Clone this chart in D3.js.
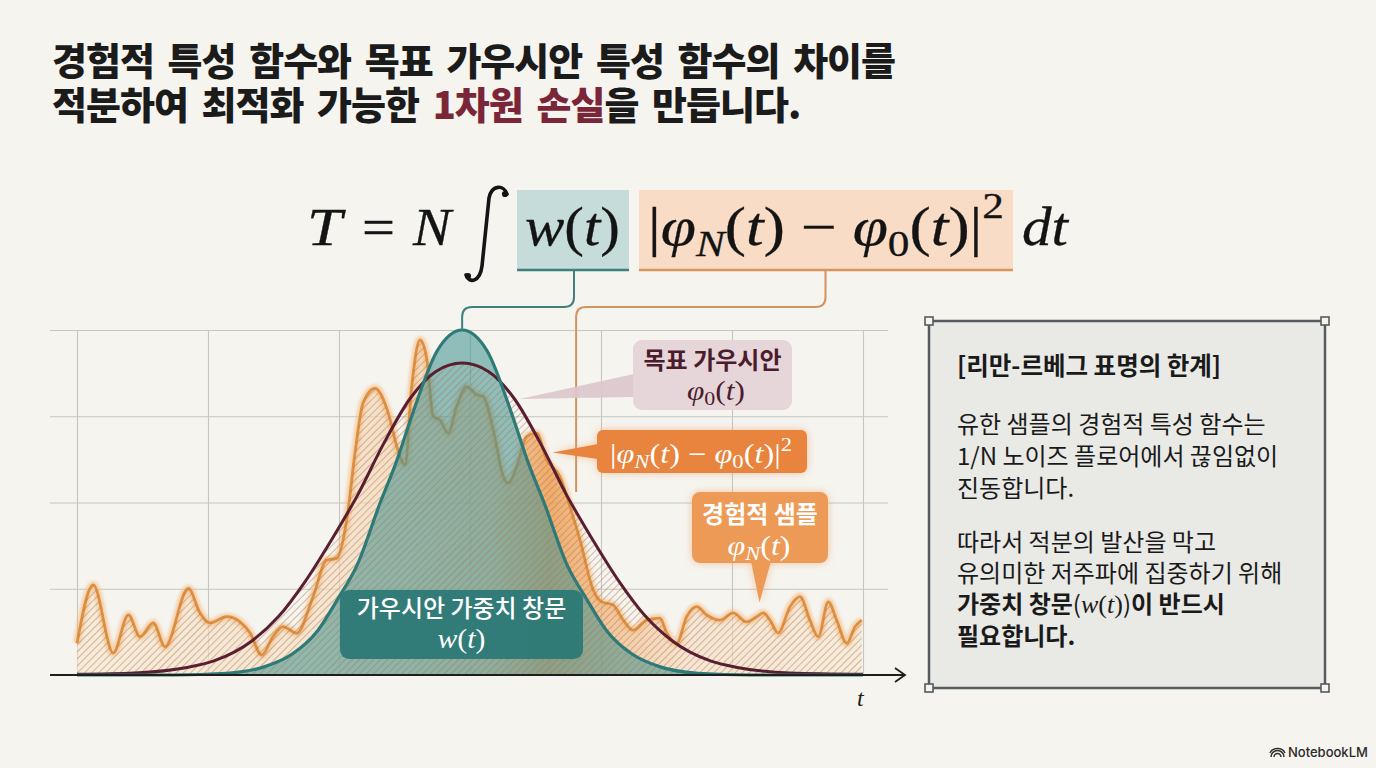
<!DOCTYPE html>
<html>
<head>
<meta charset="utf-8">
<script src="https://cdn.jsdelivr.net/npm/d3@7"></script>
<style>
  html, body { margin: 0; padding: 0; background: #f5f4ef; }
  svg { display: block; }
</style>
</head>
<body>
<div id="chart"></div>
<script>
// ---- data (t in grid cells 0..6, value 0..1) ----
var gridT = [0, 1, 2, 3, 4, 5, 6];
var gridV = [0.25, 0.5, 0.75, 1];

// gaussian weight window w(t)
var wT = [0, 0.74, 1.14, 1.44, 1.64, 1.84, 1.99, 2.14, 2.315, 2.44, 2.555, 2.75, 2.94,
          3.13, 3.325, 3.44, 3.565, 3.74, 3.89, 4.04, 4.24, 4.44, 4.74, 5.14, 6];
var wV = [0, 0, 0.005, 0.025, 0.06, 0.13, 0.22, 0.32, 0.5, 0.62, 0.75, 0.94, 1.0,
          0.94, 0.75, 0.62, 0.5, 0.32, 0.22, 0.13, 0.06, 0.025, 0.005, 0, 0];

// target gaussian phi0(t)
var p0T = [0, 0.44, 0.84, 1.04, 1.34, 1.54, 1.74, 1.94, 2.14, 2.34, 2.54, 2.74, 2.94,
           3.14, 3.34, 3.54, 3.74, 3.94, 4.14, 4.34, 4.54, 4.84, 5.04, 5.44, 6];
var p0V = [0.002, 0.006, 0.022, 0.04, 0.1, 0.17, 0.27, 0.39, 0.52, 0.67, 0.8, 0.88, 0.904,
           0.88, 0.8, 0.67, 0.52, 0.39, 0.27, 0.17, 0.1, 0.04, 0.022, 0.006, 0.002];

// empirical sample phiN(t)
var pNT = [0, 0.124, 0.277, 0.392, 0.481, 0.582, 0.672, 0.85, 0.939, 1.015, 1.143, 1.244, 1.321,
           1.41, 1.496, 1.573, 1.677, 1.802, 1.906, 1.982, 2.059, 2.122, 2.183, 2.275, 2.374, 2.45,
           2.504, 2.555, 2.618, 2.669, 2.72, 2.771, 2.834, 2.898, 2.975, 3.051, 3.102, 3.178, 3.254,
           3.292, 3.356, 3.433, 3.509, 3.585, 3.687, 3.763, 3.84, 3.941, 4.005, 4.092, 4.17, 4.244,
           4.349, 4.45, 4.502, 4.578, 4.654, 4.731, 4.807, 4.908, 5.008, 5.112, 5.189, 5.239, 5.29,
           5.353, 5.443, 5.519, 5.595, 5.659, 5.735, 5.799, 5.876, 5.939, 5.99];
var pNV = [0.092, 0.261, 0.064, 0.174, 0.111, 0.151, 0.082, 0.251, 0.18, 0.151, 0.169, 0.154, 0.122,
           0.058, 0.111, 0.14, 0.121, 0.227, 0.333, 0.338, 0.449, 0.643, 0.788, 0.831, 0.762, 0.652,
           0.609, 0.836, 0.971, 0.919, 0.749, 0.739, 0.701, 0.778, 0.836, 0.812, 0.807, 0.71, 0.575,
           0.556, 0.604, 0.691, 0.701, 0.623, 0.575, 0.488, 0.391, 0.246, 0.212, 0.203, 0.159, 0.13,
           0.159, 0.165, 0.122, 0.092, 0.169, 0.198, 0.174, 0.159, 0.18, 0.154, 0.169, 0.18, 0.159,
           0.122, 0.198, 0.227, 0.159, 0.111, 0.212, 0.159, 0.092, 0.14, 0.159];

// texts
var titleLine1 = "경험적 특성 함수와 목표 가우시안 특성 함수의 차이를";
var titleLine2 = ["적분하여 최적화 가능한 ", "1차원 손실", "을 만듭니다."];
var targetLabel = "목표 가우시안";
var sampleLabel = "경험적 샘플";
var windowLabel = "가우시안 가중치 창문";
var panelTitle = "[리만-르베그 표명의 한계]";
var panelPara1 = ["유한 샘플의 경험적 특성 함수는", "1/N 노이즈 플로어에서 끊임없이", "진동합니다."];
var panelPara2 = ["따라서 적분의 발산을 막고", "유의미한 저주파에 집중하기 위해"];

var KR = "'Noto Sans CJK KR', 'Noto Sans', sans-serif";
var MATH = "'Liberation Serif', 'DejaVu Serif', serif";

var svgWidth = 1376, svgHeight = 768;

var svg = d3.select("#chart")
  .append("svg")
  .attr("width", svgWidth)
  .attr("height", svgHeight);

svg.append("rect").attr("width", svgWidth).attr("height", svgHeight).attr("fill", "#f5f4ef");

// ---- defs ----
var defs = svg.append("defs");

var hatch = defs.append("pattern")
  .attr("id", "hatch")
  .attr("patternUnits", "userSpaceOnUse")
  .attr("width", 5).attr("height", 5)
  .attr("patternTransform", "rotate(45)");
hatch.append("line")
  .attr("x1", 0).attr("y1", 0).attr("x2", 0).attr("y2", 5)
  .attr("stroke", "#a8744a").attr("stroke-width", 1.1).attr("stroke-opacity", 0.85);

var og = defs.append("linearGradient")
  .attr("id", "orangeFill")
  .attr("gradientUnits", "userSpaceOnUse")
  .attr("x1", 77).attr("x2", 863).attr("y1", 0).attr("y2", 0);
[[0, "#f8e6cc", 0.6], [0.33, "#f6dcc0", 0.65], [0.52, "#f3c699", 0.75], [0.6, "#ef9f55", 0.85],
 [0.68, "#f3b47a", 0.7], [0.78, "#f7dcc2", 0.6], [1, "#f8e6cc", 0.6]].forEach(function(s) {
  og.append("stop").attr("offset", s[0]).attr("stop-color", s[1]).attr("stop-opacity", s[2]);
});

var blur = defs.append("filter").attr("id", "blur").attr("x", "-5%").attr("y", "-5%")
  .attr("width", "110%").attr("height", "110%");
blur.append("feGaussianBlur").attr("stdDeviation", 1.6);

var glow = defs.append("filter").attr("id", "glow").attr("x", "-20%").attr("y", "-30%")
  .attr("width", "140%").attr("height", "160%");
glow.append("feDropShadow").attr("dx", 0).attr("dy", 0).attr("stdDeviation", 4)
  .attr("flood-color", "#f2a060").attr("flood-opacity", 0.55);

// ---- title ----
var title = svg.append("text")
  .attr("font-family", KR).attr("font-weight", 900).attr("font-size", 38)
  .attr("letter-spacing", -1).attr("word-spacing", 6)
  .attr("fill", "#1b1b1b");
title.append("tspan").attr("x", 52).attr("y", 75).text(titleLine1);
var t2 = title.append("tspan").attr("x", 52).attr("y", 119);
t2.append("tspan").text(titleLine2[0]);
title.append("tspan").attr("fill", "#7b2638").text(titleLine2[1]);
title.append("tspan").text(titleLine2[2]);

// ---- formula ----
function mathText(sel, parts, size) {
  var prev = 0;
  parts.forEach(function(p) {
    var ts = sel.append("tspan").text(p[0]);
    if (p[1]) ts.attr("font-style", "italic");
    var shift = p[2] * size;
    if (shift !== prev) ts.attr("dy", shift - prev);
    if (p[3] !== 1) ts.attr("font-size", size * p[3]);
    prev = shift;
  });
}

var formula = svg.append("g").attr("fill", "#141414").attr("font-family", MATH);

formula.append("rect").attr("x", 517).attr("y", 190).attr("width", 112).attr("height", 80)
  .attr("fill", "#c6dcda");
formula.append("line").attr("x1", 517).attr("x2", 629).attr("y1", 270).attr("y2", 270)
  .attr("stroke", "#3f807d").attr("stroke-width", 2.5);
formula.append("rect").attr("x", 639).attr("y", 190).attr("width", 374).attr("height", 80)
  .attr("fill", "#f8dcc5");
formula.append("line").attr("x1", 639).attr("x2", 1013).attr("y1", 270).attr("y2", 270)
  .attr("stroke", "#d8965c").attr("stroke-width", 2.5);

var ftext = formula.append("g").attr("stroke", "#141414").attr("stroke-width", 0.3);

ftext.append("text").attr("x", 307).attr("y", 245).attr("font-size", 52)
  .attr("font-style", "italic").attr("textLength", 35).attr("lengthAdjust", "spacingAndGlyphs").text("T");
ftext.append("text").attr("x", 362).attr("y", 245).attr("font-size", 52)
  .attr("textLength", 33).attr("lengthAdjust", "spacingAndGlyphs").text("=");
ftext.append("text").attr("x", 413).attr("y", 245).attr("font-size", 52)
  .attr("font-style", "italic").attr("textLength", 38).attr("lengthAdjust", "spacingAndGlyphs").text("N");
// integral sign
formula.append("path")
  .attr("d", "M507,194 C504,185 492,184 489,198 L482,266 C480,282 469,284 466,275")
  .attr("fill", "none").attr("stroke", "#141414").attr("stroke-width", 3.6).attr("stroke-linecap", "round");
formula.append("circle").attr("cx", 505).attr("cy", 194).attr("r", 3.1);
formula.append("circle").attr("cx", 468).attr("cy", 276).attr("r", 3.1);

var wf = ftext.append("text").attr("x", 525).attr("y", 245).attr("font-size", 54)
  .attr("textLength", 95).attr("lengthAdjust", "spacingAndGlyphs");
mathText(wf, [["w", 1, 0, 1], ["(", 0, 0, 1], ["t", 1, 0, 1], [")", 0, 0, 1]], 54);

var df = ftext.append("text").attr("x", 648).attr("y", 245).attr("font-size", 54)
  .attr("textLength", 356).attr("lengthAdjust", "spacingAndGlyphs");
mathText(df, [["|", 0, 0, 1], ["φ", 1, 0, 1], ["N", 1, 0.2, 0.68], ["(", 0, 0, 1], ["t", 1, 0, 1],
              [")", 0, 0, 1], [" − ", 0, 0, 1], ["φ", 1, 0, 1], ["0", 0, 0.2, 0.68], ["(", 0, 0, 1],
              ["t", 1, 0, 1], [")|", 0, 0, 1], ["2", 0, -0.5, 0.68]], 54);

ftext.append("text").attr("x", 1022).attr("y", 245).attr("font-size", 54)
  .attr("font-style", "italic").attr("textLength", 46).attr("lengthAdjust", "spacingAndGlyphs").text("dt");

// ---- chart ----
var x = d3.scaleLinear().domain([0, 6]).range([77, 863]);
var y = d3.scaleLinear().domain([0, 1]).range([675, 330]);

function pts(ts, vs) { return ts.map(function(t, i) { return { t: t, v: vs[i] }; }); }
var wData = pts(wT, wV), p0Data = pts(p0T, p0V), pNData = pts(pNT, pNV);

var line = d3.line().x(function(d) { return x(d.t); }).y(function(d) { return y(d.v); })
  .curve(d3.curveMonotoneX);
var area = d3.area().x(function(d) { return x(d.t); }).y0(y(0)).y1(function(d) { return y(d.v); })
  .curve(d3.curveMonotoneX);

var chart = svg.append("g");

// grid via axes
chart.append("g")
  .attr("transform", "translate(0," + y(0) + ")")
  .call(d3.axisBottom(x).tickValues(gridT).tickSize(-(y(0) - y(1))).tickFormat(""))
  .call(function(g) { g.select(".domain").remove(); })
  .selectAll("line").attr("stroke", "#c6c6c2").attr("stroke-width", 1.1);

chart.append("g")
  .attr("transform", "translate(50,0)")
  .call(d3.axisLeft(y).tickValues(gridV).tickSize(-(888 - 50)).tickFormat(""))
  .call(function(g) { g.select(".domain").remove(); })
  .selectAll("line").attr("stroke", "#c6c6c2").attr("stroke-width", 1.1);

// empirical area + line
chart.append("path").attr("d", area(pNData)).attr("fill", "url(#orangeFill)");
chart.append("path").attr("d", line(pNData)).attr("fill", "none")
  .attr("stroke", "#f4b474").attr("stroke-width", 8).attr("stroke-opacity", 0.55)
  .attr("filter", "url(#blur)");
chart.append("path").attr("d", line(pNData)).attr("fill", "none")
  .attr("stroke", "#de9040").attr("stroke-width", 2.8).attr("stroke-linejoin", "round");

// weight window area
chart.append("path").attr("d", area(wData)).attr("fill", "#4a9896").attr("fill-opacity", 0.6);

// hatch over union of sample area and target area
var clip = defs.append("clipPath").attr("id", "hatchClip");
clip.append("path").attr("d", area(pNData));
clip.append("path").attr("d", area(p0Data));
chart.append("rect")
  .attr("x", x(0)).attr("y", y(1)).attr("width", x(6) - x(0)).attr("height", y(0) - y(1))
  .attr("fill", "url(#hatch)").attr("clip-path", "url(#hatchClip)");

// target + window lines
chart.append("path").attr("d", line(p0Data)).attr("fill", "none")
  .attr("stroke", "#5a1e31").attr("stroke-width", 3);
chart.append("path").attr("d", line(wData)).attr("fill", "none")
  .attr("stroke", "#2e7a77").attr("stroke-width", 3.2);

// t axis
chart.append("line").attr("x1", 50).attr("x2", 904).attr("y1", y(0)).attr("y2", y(0))
  .attr("stroke", "#1e1e1e").attr("stroke-width", 1.8);
chart.append("path").attr("d", "M895," + (y(0) - 7) + " L905," + y(0) + " L895," + (y(0) + 7))
  .attr("fill", "none").attr("stroke", "#1e1e1e").attr("stroke-width", 1.8);
chart.append("text").attr("x", 857).attr("y", 706).attr("font-family", MATH)
  .attr("font-style", "italic").attr("font-size", 24).attr("fill", "#1e1e1e").text("t");

// connectors from formula boxes
var peakX = x(2.94), peakY = y(1);
chart.append("path")
  .attr("d", "M574,270 V297 Q574,307 564,307 H" + (peakX + 10) + " Q" + peakX + ",307 " + peakX + ",317 V" + peakY)
  .attr("fill", "none").attr("stroke", "#3f807d").attr("stroke-width", 2);
var diffX = x(3.81);
chart.append("path")
  .attr("d", "M825.5,270 V297 Q825.5,307 815.5,307 H" + (diffX + 10) + " Q" + diffX + ",307 " + diffX + ",317 V492")
  .attr("fill", "none").attr("stroke", "#d3935e").attr("stroke-width", 2);

// ---- callouts ----
var call = svg.append("g");

// target gaussian
var tipA = [x(3.38), y(0.8)];
call.append("path").attr("d", "M634,374 L" + tipA[0] + "," + tipA[1] + " L634,397 Z")
  .attr("fill", "#dcc6cb").attr("fill-opacity", 0.9);
call.append("rect").attr("x", 633).attr("y", 340).attr("width", 159).attr("height", 70).attr("rx", 9)
  .attr("fill", "#e5d3d7").attr("fill-opacity", 0.96);
call.append("text").attr("x", 712.5).attr("y", 369).attr("text-anchor", "middle")
  .attr("font-family", KR).attr("font-weight", 700).attr("font-size", 24).attr("fill", "#4a1c2c")
  .text(targetLabel);
var ta = call.append("text").attr("x", 716).attr("y", 400).attr("text-anchor", "middle")
  .attr("font-family", MATH).attr("font-size", 27).attr("fill", "#4a1c2c")
  .attr("textLength", 58).attr("lengthAdjust", "spacingAndGlyphs");
mathText(ta, [["φ", 1, 0, 1], ["0", 0, 0.2, 0.7], ["(", 0, 0, 1], ["t", 1, 0, 1], [")", 0, 0, 1]], 27);

// difference
var tipB = [x(3.63), y(0.645)];
var gB = call.append("g").attr("filter", "url(#glow)");
gB.append("path").attr("d", "M598,444 L" + tipB[0] + "," + tipB[1] + " L598,459 Z").attr("fill", "#e8843c");
gB.append("rect").attr("x", 597).attr("y", 430).attr("width", 210).attr("height", 43).attr("rx", 6)
  .attr("fill", "#e8843c");
var tb = call.append("text").attr("x", 701).attr("y", 463).attr("text-anchor", "middle")
  .attr("font-family", MATH).attr("font-size", 27).attr("fill", "#ffffff")
  .attr("textLength", 182).attr("lengthAdjust", "spacingAndGlyphs");
mathText(tb, [["|", 0, 0, 1], ["φ", 1, 0, 1], ["N", 1, 0.2, 0.7], ["(", 0, 0, 1], ["t", 1, 0, 1],
              [")", 0, 0, 1], [" − ", 0, 0, 1], ["φ", 1, 0, 1], ["0", 0, 0.2, 0.7], ["(", 0, 0, 1],
              ["t", 1, 0, 1], [")|", 0, 0, 1], ["2", 0, -0.45, 0.7]], 27);

// empirical sample
var tipC = [x(5.21), y(0.21)];
var gC = call.append("g").attr("filter", "url(#glow)");
gC.append("path").attr("d", "M751,561 L" + tipC[0] + "," + tipC[1] + " L771,561 Z").attr("fill", "#ec9a54");
gC.append("rect").attr("x", 692).attr("y", 492).attr("width", 136).attr("height", 71).attr("rx", 8)
  .attr("fill", "#ec9a54");
call.append("text").attr("x", 760).attr("y", 523).attr("text-anchor", "middle")
  .attr("font-family", KR).attr("font-weight", 700).attr("font-size", 24).attr("fill", "#ffffff")
  .text(sampleLabel);
var tc = call.append("text").attr("x", 759).attr("y", 555).attr("text-anchor", "middle")
  .attr("font-family", MATH).attr("font-size", 27).attr("fill", "#ffffff")
  .attr("textLength", 63).attr("lengthAdjust", "spacingAndGlyphs");
mathText(tc, [["φ", 1, 0, 1], ["N", 1, 0.2, 0.7], ["(", 0, 0, 1], ["t", 1, 0, 1], [")", 0, 0, 1]], 27);

// weight window
call.append("rect").attr("x", 340).attr("y", 590).attr("width", 243).attr("height", 69).attr("rx", 9)
  .attr("fill", "#2e7a77").attr("fill-opacity", 0.97);
call.append("text").attr("x", 461.5).attr("y", 617).attr("text-anchor", "middle")
  .attr("font-family", KR).attr("font-weight", 500).attr("font-size", 24).attr("fill", "#ffffff")
  .text(windowLabel);
var td = call.append("text").attr("x", 461.5).attr("y", 648).attr("text-anchor", "middle")
  .attr("font-family", MATH).attr("font-size", 27).attr("fill", "#ffffff")
  .attr("textLength", 48).attr("lengthAdjust", "spacingAndGlyphs");
mathText(td, [["w", 1, 0, 1], ["(", 0, 0, 1], ["t", 1, 0, 1], [")", 0, 0, 1]], 27);

// ---- right panel ----
var panel = svg.append("g");
panel.append("rect").attr("x", 929).attr("y", 321).attr("width", 396).attr("height", 367)
  .attr("fill", "#e9e9e6").attr("stroke", "#565b60").attr("stroke-width", 2.5);
[[929, 321], [1325, 321], [929, 688], [1325, 688]].forEach(function(c) {
  panel.append("rect").attr("x", c[0] - 4).attr("y", c[1] - 4).attr("width", 8).attr("height", 8)
    .attr("fill", "#f5f4ef").attr("stroke", "#565b60").attr("stroke-width", 1.6);
});

var ptxt = panel.append("g").attr("font-family", KR).attr("fill", "#1a1a1a");
ptxt.append("text").attr("x", 957).attr("y", 375).attr("font-weight", 700).attr("font-size", 24.5)
  .text(panelTitle);
var bodyY = [433, 465, 497];
panelPara1.forEach(function(s, i) {
  ptxt.append("text").attr("x", 957).attr("y", bodyY[i]).attr("font-size", 24).text(s);
});
var body2Y = [551, 582];
panelPara2.forEach(function(s, i) {
  ptxt.append("text").attr("x", 957).attr("y", body2Y[i]).attr("font-size", 24).text(s);
});
var b1 = ptxt.append("text").attr("x", 957).attr("y", 613).attr("font-size", 24);
b1.append("tspan").attr("font-weight", 700).text("가중치 창문");
b1.append("tspan").text("(");
b1.append("tspan").attr("font-family", MATH).attr("font-style", "italic").attr("font-size", 26).text("w");
b1.append("tspan").attr("font-family", MATH).attr("font-size", 26).text("(");
b1.append("tspan").attr("font-family", MATH).attr("font-style", "italic").attr("font-size", 26).text("t");
b1.append("tspan").attr("font-family", MATH).attr("font-size", 26).text(")");
b1.append("tspan").text(")");
b1.append("tspan").attr("font-weight", 700).text("이 반드시");
ptxt.append("text").attr("x", 957).attr("y", 645).attr("font-size", 24).attr("font-weight", 700)
  .text("필요합니다.");

// ---- logo ----
var logo = svg.append("g").attr("stroke", "#333").attr("fill", "none").attr("stroke-width", 1.5);
logo.append("path").attr("d", "M1271,757 A6.5,6.5 0 0 1 1284,757");
logo.append("path").attr("d", "M1274,757 A3.5,3.5 0 0 1 1281,757");
logo.append("path").attr("d", "M1270,753 A8,7 0 0 1 1285,753");
svg.append("text").attr("x", 1288).attr("y", 757).attr("font-family", "Inter, Roboto, sans-serif")
  .attr("font-weight", 500).attr("font-size", 13).attr("fill", "#2a2a2a").text("NotebookLM");
</script>
</body>
</html>
